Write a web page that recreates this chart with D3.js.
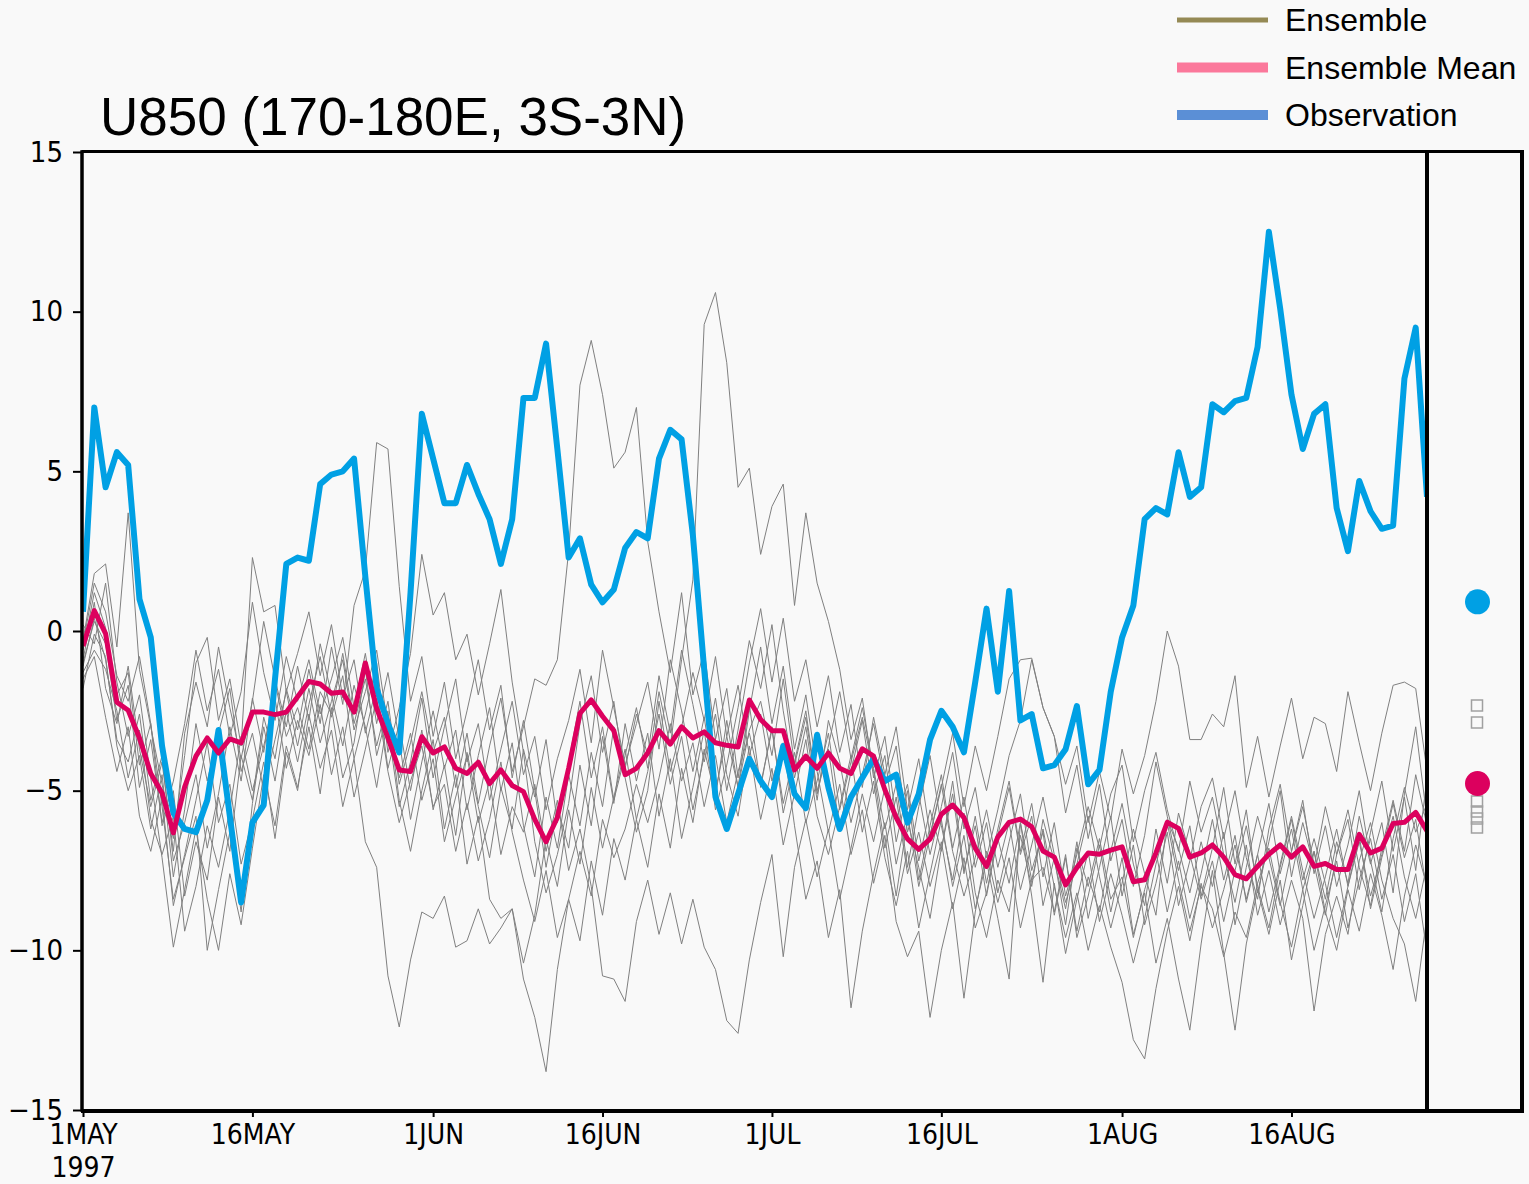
<!DOCTYPE html>
<html>
<head>
<meta charset="utf-8">
<script src="https://cdn.jsdelivr.net/npm/d3@7"></script>
<style>
  html, body { margin: 0; padding: 0; background: #f9f9f9; }
  svg { display: block; }
  .tick text { font-family: "Liberation Sans Narrow", "Arial Narrow", "DejaVu Sans Condensed", sans-serif; }
</style>
</head>
<body>
<svg id="chart" width="1529" height="1184"></svg>
<script>
// U850 time series, 1 May 1997 onward, one value per day (m/s)
const startDate = "1997-05-01";
const startYear = "1997";

const observation = [
  0.6, 7.0, 4.5, 5.6, 5.2, 1.0, -0.2, -3.6, -5.7, -6.2,
  -6.3, -5.3, -3.1, -5.8, -8.5, -6.0, -5.45, -1.5, 2.1, 2.3,
  2.2, 4.6, 4.9, 5.0, 5.4, 1.7, -1.8, -2.9, -3.8, 1.2,
  6.8, 5.4, 4.0, 4.0, 5.2, 4.3, 3.5, 2.1, 3.5, 7.3,
  7.3, 9.0, 5.7, 2.3, 2.9, 1.45, 0.9, 1.3, 2.6, 3.1,
  2.9, 5.4, 6.3, 6.0, 3.0, -1.2, -5.2, -6.2, -5.1, -4.0,
  -4.7, -5.2, -3.6, -5.1, -5.55, -3.25, -4.9, -6.2, -5.2, -4.6,
  -4.0, -4.7, -4.5, -6.0, -5.1, -3.4, -2.5, -3.0, -3.8, -1.6,
  0.7, -1.9, 1.25, -2.8, -2.6, -4.3, -4.2, -3.7, -2.35, -4.8,
  -4.35, -1.9, -0.2, 0.8, 3.5, 3.85, 3.65, 5.6, 4.2, 4.5,
  7.1, 6.85, 7.2, 7.3, 8.9, 12.5, 10.1, 7.4, 5.7, 6.8,
  7.1, 3.85, 2.5, 4.7, 3.75, 3.2, 3.3, 7.9, 9.5, 4.2
];

const ensembleMean = [
  -0.47, 0.64, -0.08, -2.23, -2.48, -3.35, -4.46, -5.07, -6.32, -4.88,
  -3.92, -3.35, -3.82, -3.38, -3.5, -2.54, -2.54, -2.62, -2.54, -2.06,
  -1.58, -1.66, -1.95, -1.91, -2.54, -1.0, -2.42, -3.35, -4.35, -4.4,
  -3.31, -3.82, -3.63, -4.3, -4.46, -4.11, -4.78, -4.35, -4.84, -5.03,
  -5.9, -6.6, -5.84, -4.3, -2.58, -2.16, -2.67, -3.12, -4.5, -4.3,
  -3.82, -3.12, -3.54, -3.0, -3.35, -3.16, -3.5, -3.58, -3.63, -2.16,
  -2.77, -3.12, -3.12, -4.35, -3.92, -4.3, -3.82, -4.3, -4.46, -3.69,
  -3.92, -4.97, -5.84, -6.51, -6.84, -6.51, -5.74, -5.45, -5.84, -6.8,
  -7.37, -6.45, -5.99, -5.89, -6.13, -6.89, -7.08, -7.95, -7.41, -6.95,
  -6.99, -6.86, -6.76, -7.85, -7.79, -6.95, -5.99, -6.18, -7.08, -6.95,
  -6.7, -7.08, -7.63, -7.76, -7.37, -6.99, -6.7, -7.08, -6.76, -7.37,
  -7.28, -7.47, -7.47, -6.37, -6.95, -6.8, -6.03, -5.99, -5.68, -6.26
];

// individual ensemble members
const ens01 = [
  -0.3, 1.8, 2.1, -0.5, 3.7, -1.2, -3.0, -4.8, -6.5, -3.9,
  -1.0, -0.2, -2.8, -1.5, -3.6, 2.3, 0.6, 0.8, -1.9, -0.7,
  0.6, -1.4, 0.2, -2.1, -0.9, -3.2, -1.7, -4.3, -2.9, -5.0,
  -3.1, -5.6, -4.2, -6.4, -3.8, -5.5, -7.1, -4.9, -6.2, -3.7,
  -5.2, -3.4, -6.0, -4.1, -2.2, -4.6, -3.0, -5.3, -3.9, -2.4,
  -4.3, -1.9, -3.6, -0.9, 1.6, 9.6, 10.6, 8.4, 4.5, 5.1,
  2.4, 3.9, 4.6, 0.8, 3.7, 1.5, 0.3, -1.2, -3.4, -2.1,
  -4.6, -3.3, -5.9, -4.8, -7.2, -5.6, -6.9, -4.7, -7.5, -6.1,
  -8.3, -6.4, -4.9, -7.0, -5.8, -8.6, -7.1, -9.2, -6.8, -8.0,
  -6.5, -8.4, -7.7, -9.6, -8.1, -6.9, -8.8, -7.2, -9.0, -7.6,
  -5.9, -7.8, -6.4, -8.5, -7.0, -5.4, -7.6, -6.2, -8.1, -6.9,
  -8.4, -6.6, -7.9, -5.8, -7.3, -6.0, -8.2, -5.1, -3.0, -5.9
];
const ens02 = [
  -1.1, 0.4, -0.9, -3.4, -4.1, -2.6, -5.3, -3.9, -7.2, -6.0,
  -4.5, -6.8, -5.1, -3.0, -4.7, -2.1, -3.8, -1.6, -3.3, -2.4,
  -3.7, -1.9, -2.6, -0.7, -2.9, -1.5, -3.6, -2.2, -4.8, -3.5,
  -1.9, -3.8, -2.7, -4.9, -3.2, -5.4, -3.6, -2.1, -4.4, -3.0,
  -1.5, -1.7, -0.9, 2.5, 7.7, 9.1, 7.4, 5.1, 5.6, 7.0,
  2.8, 0.6, -1.3, 1.2, -2.0, -0.6, -3.4, -1.8, -4.6, -2.3,
  -4.9, -3.0, -5.7, -4.1, -2.5, -5.0, -3.7, -6.2, -4.4, -2.8,
  -5.1, -3.9, -6.6, -5.0, -7.8, -6.1, -4.5, -6.8, -5.2, -7.4,
  -6.0, -8.2, -6.6, -5.1, -7.5, -6.3, -8.9, -7.1, -9.4, -7.7,
  -8.8, -6.9, -5.4, -7.3, -8.6, -6.2, -7.9, -5.7, -7.0, -8.4,
  -7.2, -9.1, -7.5, -6.1, -8.0, -9.3, -7.4, -5.9, -7.8, -6.5,
  -7.9, -9.6, -8.0, -6.4, -8.7, -7.1, -5.8, -7.7, -9.0, -7.3
];
const ens03 = [
  -0.6, 1.2, 0.1, -2.0, -1.3, -4.2, -2.9, -6.1, -5.0, -8.3,
  -6.6, -7.8, -5.2, -6.9, -3.9, -5.3, -2.7, -4.0, -1.8, -3.1,
  -1.2, -2.9, -0.5, -2.3, 0.8, 1.9, 5.9, 5.7, 1.4, -2.2,
  -0.8, -3.3, -1.6, -4.0, -2.5, -0.9, -3.1, -1.7, -4.6, -2.8,
  -5.0, -7.4, -5.5, -6.8, -4.2, -6.1, -3.3, -5.4, -2.9, -4.7,
  -3.2, -5.8, -4.0, -6.5, -4.9, -3.1, -5.6, -4.2, -2.4, -0.3,
  -1.8, 0.2, -2.5, -4.6, -3.0, -5.3, -2.8, -4.1, -6.0, -4.5,
  -2.9, -4.8, -3.6, -6.3, -5.1, -7.0, -5.5, -3.8, -6.2, -4.9,
  -7.1, -5.6, -3.9, -2.8, -0.9, -2.4, -3.3, -5.7, -4.2, -6.5,
  -4.8, -7.2, -5.9, -8.0, -6.4, -4.1, -5.8, -7.5, -6.1, -8.3,
  -6.8, -4.9, -7.3, -5.6, -8.2, -6.6, -5.0, -7.7, -6.0, -7.4,
  -5.5, -7.0, -5.9, -8.1, -6.3, -4.7, -6.9, -5.2, -7.5, -4.6
];
const ens04 = [
  -1.5, -0.8, -2.7, -4.4, -3.0, -5.8, -6.9, -5.2, -8.6, -7.0,
  -5.3, -3.5, -6.0, -4.8, -7.3, -5.9, -4.1, -6.5, -3.8, -5.0,
  -2.6, -4.3, -3.1, -5.5, -4.0, -6.6, -7.4, -10.8, -12.4, -10.3,
  -8.8, -9.0, -8.3, -9.9, -9.7, -8.7, -9.8, -9.3, -8.7, -10.4,
  -8.9, -6.5, -8.0, -5.6, -7.3, -4.9, -6.8, -5.2, -3.7, -5.9,
  -4.4, -2.6, -4.8, -3.3, -5.6, -3.9, -2.1, -4.5, -5.8, -3.6,
  -5.9, -4.3, -6.7, -5.1, -3.4, -5.8, -7.0, -5.5, -3.9, -6.3,
  -4.7, -7.1, -8.6, -6.9, -9.3, -7.6, -5.9, -8.0, -6.4, -8.7,
  -7.2, -9.0, -10.9, -6.0, -8.3, -11.0, -7.9, -10.1, -8.4, -6.9,
  -9.1, -7.6, -8.9, -10.4, -9.0, -7.3, -6.0, -7.8, -9.4, -8.0,
  -8.7, -10.2, -8.8, -9.6, -7.9, -6.8, -8.5, -9.9, -8.1, -10.0,
  -8.6, -7.2, -9.3, -7.8, -6.5, -8.4, -7.0, -9.1, -7.6, -10.1
];
const ens05 = [
  0.2, -0.4, 1.5, -1.6, -3.3, -2.0, -4.6, -7.1, -9.9, -8.1,
  -6.2, -8.4, -10.0, -7.6, -9.2, -6.8, -4.5, -6.1, -3.6, -4.9,
  -3.0, -5.1, -2.4, -4.6, -3.5, -1.2, -3.9, -2.5, -5.3, -6.9,
  -5.0, -3.4, -6.2, -4.5, -7.3, -5.8, -8.4, -9.0, -8.7, -10.9,
  -12.1, -13.8, -10.6, -8.4, -9.7, -7.2, -8.9, -6.5, -7.8, -5.9,
  -7.4, -5.1, -6.8, -4.3, -6.0, -3.7, -5.2, -2.8, -4.9, -3.1,
  -2.2, -3.9, -1.5, -4.2, -2.7, -5.1, -3.6, -1.9, -4.0, -2.4,
  -4.3, -6.2, -4.8, -7.4, -5.5, -3.9, -6.1, -7.8, -5.7, -8.2,
  -9.6, -7.8, -8.8, -6.4, -8.0, -5.9, -7.2, -8.7, -6.6, -9.0,
  -7.4, -5.8, -8.3, -6.7, -9.2, -7.9, -6.3, -8.6, -7.2, -5.5,
  -4.6, -6.5, -5.0, -7.1, -8.4, -6.2, -4.8, -6.9, -5.3, -7.6,
  -6.1, -8.0, -6.7, -5.0, -7.2, -8.8, -6.5, -4.9, -6.3, -5.4
];
const ens06 = [
  -0.9, 0.9, -1.8, -2.9, -1.1, -3.7, -5.5, -4.1, -6.9, -3.2,
  -1.6, -3.0, -0.5, -2.4, -4.0, -2.2, 0.3, -1.5, -3.0, -1.1,
  -2.8, -0.4, -2.0, -3.6, -1.7, -3.0, -4.9, -2.7, -4.6, -3.2,
  -5.3, -4.0, -6.6, -5.2, -3.9, -6.0, -4.7, -7.0, -5.5, -6.3,
  -4.8, -6.9, -5.3, -7.5, -6.2, -8.0, -10.8, -10.9, -11.6, -9.1,
  -7.8, -9.5, -8.2, -9.8, -8.4, -9.9, -10.6, -12.2, -12.6, -10.3,
  -8.5, -7.0, -10.2, -7.4, -5.9, -7.7, -6.2, -8.4, -6.8, -5.1,
  -6.6, -4.9, -7.3, -5.7, -8.0, -6.4, -4.8, -6.9, -8.3, -7.1,
  -5.6, -7.4, -6.0, -8.1, -6.7, -5.2, -7.0, -8.5, -7.3, -5.8,
  -7.7, -9.3, -7.9, -6.2, -7.6, -8.9, -5.9, -6.8, -8.2, -6.6,
  -8.0, -6.3, -9.2, -7.4, -5.8, -7.1, -8.6, -6.9, -5.5, -7.3,
  -8.9, -7.0, -5.6, -7.4, -8.6, -6.8, -5.3, -6.9, -4.5, -6.1
];
const ens07 = [
  -1.8, -0.1, -0.8, -3.6, -5.0, -3.9, -6.2, -4.5, -7.7, -5.6,
  -2.9, -4.7, -3.2, -1.8, -4.4, -3.2, -5.0, -3.4, -1.9, -3.6,
  -1.8, -3.5, -2.2, -0.9, -3.1, -1.9, -0.6, -3.0, -5.5, -4.1,
  -2.1, -4.6, -3.0, -1.5, -4.1, -2.9, -5.3, -3.7, -2.2, -4.5,
  -3.3, -5.6, -4.0, -2.8, -1.2, -3.5, -0.6, -2.4, -4.2, -2.9,
  -1.6, -3.7, -0.9, -2.5, -4.4, -2.7, -5.0, -3.3, -1.7, -3.9,
  -2.6, -4.7, -3.5, -6.1, -8.4, -7.2, -9.6, -8.1, -11.8, -9.4,
  -7.6, -6.0, -8.3, -5.9, -7.4, -9.0, -6.8, -5.1, -7.6, -5.8,
  -7.9, -6.2, -4.7, -6.9, -5.4, -7.7, -6.0, -8.3, -7.0, -5.5,
  -6.8, -5.1, -4.2, -6.6, -5.0, -3.8, -5.6, -6.9, -4.7, -6.3,
  -5.2, -7.0, -8.5, -6.7, -8.9, -7.5, -9.2, -7.8, -9.0, -11.9,
  -9.5, -8.3, -9.5, -7.2, -6.0, -7.8, -9.0, -9.8, -11.6, -8.9
];
const ens08 = [
  -0.4, 1.5, 0.6, -1.4, -2.2, -0.8, -2.9, -5.5, -8.4, -7.1,
  -5.8, -10.0, -8.1, -6.3, -8.8, -5.4, -3.0, -4.7, -2.5, -4.1,
  -2.3, -0.8, -2.7, -1.4, -4.0, -2.6, -1.0, -3.8, -2.4, -0.7,
  2.4, 0.5, 1.2, -0.9, -0.1, -2.0, -0.4, 1.3, -1.6, -3.8,
  -6.6, -8.2, -7.0, -5.4, -2.9, -1.4, -3.8, -2.2, -4.6, -6.3,
  -5.0, -2.2, -4.4, -3.0, -1.3, -2.8, -0.8, -3.3, -4.9, -2.5,
  -0.5, -2.9, -1.1, -3.7, -2.0, -4.4, -6.3, -4.8, -7.0, -5.6,
  -7.9, -6.4, -9.1, -10.2, -9.4, -12.1, -10.0, -8.5, -11.5, -8.8,
  -6.9, -8.5, -7.1, -9.3, -7.8, -6.2, -8.0, -9.6, -8.2, -10.0,
  -8.6, -9.9, -11.0, -12.8, -13.4, -11.2, -9.4, -8.0, -9.7, -7.9,
  -9.3, -8.1, -6.7, -8.4, -7.0, -8.8, -7.3, -5.8, -7.5, -9.0,
  -7.7, -6.2, -8.0, -6.6, -8.3, -7.0, -5.4, -7.1, -5.9, -8.2
];
const ens09 = [
  -1.3, -0.6, -1.2, -2.5, -4.6, -3.1, -5.9, -7.0, -5.8, -9.4,
  -8.0, -6.1, -7.4, -5.6, -3.3, -5.0, -3.6, -2.1, -4.3, -2.8,
  -3.9, -2.3, -4.5, -3.0, -5.2, -3.7, -2.1, -4.4, -6.0, -4.7,
  -3.6, -5.5, -4.8, -6.9, -5.4, -7.2, -5.9, -4.1, -6.3, -7.8,
  -9.1, -7.5, -9.6, -8.4, -6.9, -8.3, -5.9, -7.1, -6.2, -4.8,
  -6.0, -4.6, -2.9, -4.7, -3.5, -5.5, -3.9, -6.0, -4.4, -3.2,
  -4.8, -3.1, -5.4, -3.8, -6.0, -4.7, -3.2, -5.6, -4.1, -2.7,
  -4.4, -6.8, -5.2, -7.6, -6.3, -8.0, -6.6, -8.7, -7.1, -9.3,
  -8.2, -6.5, -7.9, -6.0, -7.8, -7.4, -8.8, -7.0, -9.6, -8.3,
  -6.7, -8.8, -7.1, -9.5, -8.2, -10.4, -9.0, -10.9, -12.5, -9.8,
  -7.5, -10.1, -12.5, -9.8, -8.1, -9.5, -7.8, -10.3, -8.6, -6.9,
  -8.8, -10.0, -8.1, -9.4, -7.6, -8.9, -10.6, -8.3, -6.7, -8.0
];
const ens10 = [
  -1.0, 0.3, -0.4, -2.8, -1.7, -4.9, -3.4, -6.0, -4.7, -2.9,
  -0.6, -2.5, -1.2, -3.3, -1.9, 0.9, -1.3, -2.8, -0.8, -2.2,
  -0.9, -2.6, -1.5, -0.2, -2.4, -0.7, -2.9, -1.3, -3.4, -5.9,
  -4.1, -2.5, -4.3, -3.1, -5.6, -3.9, -2.4, -5.0, -3.5, -6.1,
  -7.7, -5.2, -6.8, -4.5, -6.1, -3.8, -5.5, -3.0, -4.3, -2.6,
  -3.9, -1.4, -3.2, -0.6, -2.3, -4.1, -2.6, -5.0, -3.1, -1.0,
  0.7, -1.6, 0.4, -2.2, -0.9, -3.0, -1.4, -3.8, -2.3, -4.9,
  -2.7, -4.5, -3.0, -5.6, -4.0, -6.4, -4.9, -3.2, -5.5, -3.6,
  -5.0, -3.3, -1.5, -0.9, -0.85, -2.4, -3.3, -4.8, -3.6, -6.0,
  -4.4, -5.9, -3.7, -5.1, -3.9, -2.2, 0.0, -1.1, -3.4, -3.4,
  -2.6, -3.0, -1.4, -4.9, -3.3, -5.2, -3.6, -2.1, -4.0, -2.7,
  -2.9, -4.4, -1.9, -3.5, -5.0, -3.2, -1.7, -1.6, -1.8, -4.4
];
const ensembleMembers = [ens01, ens02, ens03, ens04, ens05, ens06, ens07, ens08, ens09, ens10];

const yTicks = [-15, -10, -5, 0, 5, 10, 15];
const xTickDates = ["1997-05-01", "1997-05-16", "1997-06-01", "1997-06-16",
                    "1997-07-01", "1997-07-16", "1997-08-01", "1997-08-16"];
const xTickLabels = ["1MAY", "16MAY", "1JUN", "16JUN", "1JUL", "16JUL", "1AUG", "16AUG"];

const legendNames = ["Ensemble", "Ensemble Mean", "Observation"];
const legendColors = ["#958a55", "#fb789b", "#5b8fd6"];
const legendWidths = [5, 10, 10];

const titleText = "U850 (170-180E, 3S-3N)";

// ---------------------------------------------------------------
const svg = d3.select("#chart");
const W = 1529, H = 1184;
const plot = { left: 83, right: 1427, top: 152, bottom: 1110, panelRight: 1522 };

svg.append("rect").attr("width", W).attr("height", H).attr("fill", "#f9f9f9");

const parse = d3.utcParse("%Y-%m-%d");
const t0 = parse(startDate);
const dates = observation.map((_, i) => d3.utcDay.offset(t0, i));

const x = d3.scaleUtc()
  .domain([dates[0], dates[dates.length - 1]])
  .range([plot.left, plot.right]);
const y = d3.scaleLinear().domain([-15, 15]).range([plot.bottom, plot.top]);

svg.append("clipPath").attr("id", "plotClip")
  .append("rect")
  .attr("x", plot.left).attr("y", plot.top)
  .attr("width", plot.right - plot.left).attr("height", plot.bottom - plot.top);

const line = d3.line().x((d, i) => x(dates[i])).y(d => y(d));

const g = svg.append("g").attr("clip-path", "url(#plotClip)");

g.selectAll("path.member")
  .data(ensembleMembers)
  .join("path")
  .attr("class", "member")
  .attr("d", line)
  .attr("fill", "none")
  .attr("stroke", "#808080")
  .attr("stroke-width", 1)
  .attr("stroke-linejoin", "round");

g.append("path")
  .datum(observation)
  .attr("d", line)
  .attr("fill", "none")
  .attr("stroke", "#00a0e4")
  .attr("stroke-width", 6)
  .attr("stroke-linejoin", "round");

g.append("path")
  .datum(ensembleMean)
  .attr("d", line)
  .attr("fill", "none")
  .attr("stroke", "#dc005e")
  .attr("stroke-width", 5)
  .attr("stroke-linejoin", "round");

// side panel: averages over the whole period
const panelX = (plot.right + plot.panelRight) / 2 + 3;
const obsAvg = d3.mean(observation);
const meanAvg = d3.mean(ensembleMean);

const boxes = svg.append("g").attr("fill", "none").attr("stroke", "#a0a0a0").attr("stroke-width", 1.5);
[700, 717, 796, 806, 813, 822].forEach(top => {
  boxes.append("rect").attr("x", panelX - 6).attr("y", top).attr("width", 11).attr("height", 11);
});

svg.append("circle").attr("cx", panelX).attr("cy", y(obsAvg)).attr("r", 12.5).attr("fill", "#00a0e4");
svg.append("circle").attr("cx", panelX).attr("cy", y(meanAvg)).attr("r", 12.5).attr("fill", "#dc005e");

// axes
const yAxis = d3.axisLeft(y).tickValues(yTicks).tickSize(10).tickPadding(10)
  .tickFormat(d => d < 0 ? "\u2212" + Math.abs(d) : String(d));
const ya = svg.append("g").attr("transform", `translate(${plot.left},0)`).call(yAxis);
ya.select(".domain").remove();
ya.selectAll(".tick line").attr("stroke", "#000").attr("stroke-width", 2);
ya.selectAll(".tick text").attr("fill", "#000").style("font-size", "29px");

const xAxis = d3.axisBottom(x).tickValues(xTickDates.map(parse)).tickSize(7).tickPadding(7)
  .tickFormat((d, i) => xTickLabels[i]);
const xa = svg.append("g").attr("transform", `translate(0,${plot.bottom})`).call(xAxis);
xa.select(".domain").remove();
xa.selectAll(".tick line").attr("stroke", "#000").attr("stroke-width", 2);
xa.selectAll(".tick text").attr("fill", "#000").style("font-size", "28px");

// the first date label carries the year on a second line
const firstLabel = xa.select(".tick text");
const firstText = firstLabel.text();
firstLabel.text(null);
firstLabel.append("tspan").attr("x", 0).text(firstText);
firstLabel.append("tspan").attr("x", 0).attr("dy", "1.17em").text(startYear);

// frame: top, left, bottom, divider and right edge
const frame = svg.append("g").attr("stroke", "#000").attr("fill", "none").attr("stroke-linecap", "square");
frame.append("line").attr("x1", plot.left).attr("x2", plot.panelRight)
  .attr("y1", plot.top - 0.5).attr("y2", plot.top - 0.5).attr("stroke-width", 3);
frame.append("line").attr("x1", plot.left - 1).attr("x2", plot.left - 1)
  .attr("y1", plot.top).attr("y2", plot.bottom).attr("stroke-width", 3.5);
frame.append("line").attr("x1", plot.left).attr("x2", plot.panelRight)
  .attr("y1", plot.bottom + 1).attr("y2", plot.bottom + 1).attr("stroke-width", 4);
frame.append("line").attr("x1", plot.right).attr("x2", plot.right)
  .attr("y1", plot.top).attr("y2", plot.bottom).attr("stroke-width", 4);
frame.append("line").attr("x1", plot.panelRight).attr("x2", plot.panelRight)
  .attr("y1", plot.top).attr("y2", plot.bottom + 1).attr("stroke-width", 4);

// title
svg.append("text")
  .attr("x", 100).attr("y", 135)
  .style("font-family", '"Liberation Sans", Arial, sans-serif')
  .style("font-size", "53px")
  .attr("fill", "#000")
  .text(titleText);

// legend
const legend = svg.append("g").attr("transform", "translate(1177,20)");
legendNames.forEach((name, i) => {
  const row = legend.append("g").attr("transform", `translate(0,${i * 47.5})`);
  row.append("line").attr("x1", 0).attr("x2", 91).attr("y1", 0).attr("y2", 0)
    .attr("stroke", legendColors[i]).attr("stroke-width", legendWidths[i]);
  row.append("text").attr("x", 108).attr("y", 11)
    .style("font-family", '"Liberation Sans", Arial, sans-serif')
    .style("font-size", "32px")
    .attr("fill", "#000")
    .text(name);
});
</script>
</body>
</html>
